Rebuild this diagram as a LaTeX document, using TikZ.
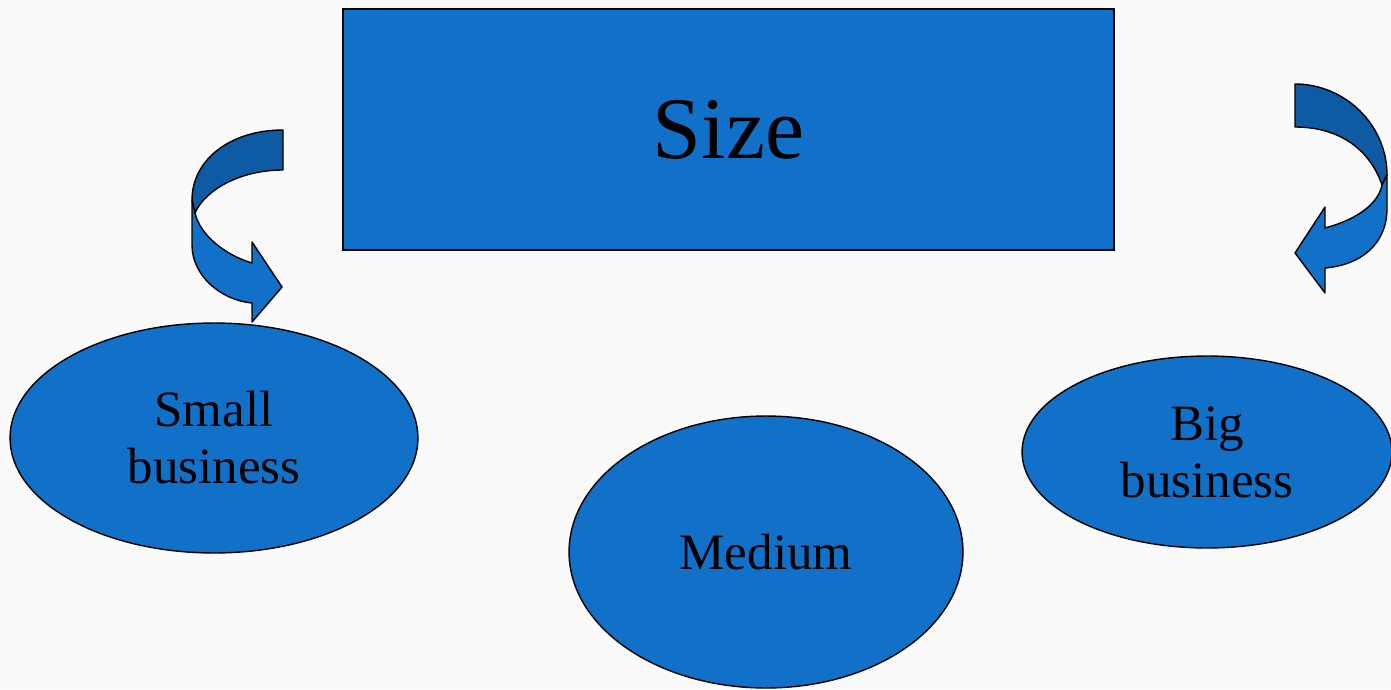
\documentclass[tikz,border=0pt]{standalone}
\usepackage{fontspec}
\setmainfont{Liberation Serif}
\usetikzlibrary{positioning, shapes.geometric}
\definecolor{sizeblue}{RGB}{17,112,200}
\definecolor{darkblue}{RGB}{14,91,163}
\definecolor{paper}{RGB}{250,250,250}

\begin{document}
\begin{tikzpicture}[
            x=0.02cm, y=-0.02cm,
            every node/.style={draw, fill=sizeblue, line width=0.8pt, inner sep=0pt, align=center, font=\fontsize{29}{32.5}\selectfont},
            sizebox/.style={rectangle, minimum width=15.42cm, minimum height=4.82cm, font=\fontsize{50}{56}\selectfont},
            blob/.style={ellipse},
            turn/.style={draw, line width=0.8pt, line join=round}
          ]

        \fill[paper] (0,0) rectangle (1391,689);
        \useasboundingbox (0,0) rectangle (1391,689);

        \node[sizebox] (size) at (728.5,129.5) {Size};
        \node[blob, minimum width=8.16cm, minimum height=4.6cm] (small) at (214,438) {Small\\business};
        \node[blob, minimum width=7.88cm, minimum height=5.44cm] (medium) at (766,552) {Medium};
        \node[blob, minimum width=7.4cm, minimum height=3.84cm] (big) at (1207,452) {Big\\business};

        % left turning arrow
        \filldraw[turn, fill=darkblue] (283,130) .. controls (230,130) and (192,160) .. (192,200)
            -- (195,213) .. controls (205,190) and (240,170) .. (283,170) -- cycle;
        \filldraw[turn, fill=sizeblue] (192,200) -- (192,245) .. controls (192,275) and (220,300) .. (252,303)
            -- (252,322) -- (282,287) -- (252,242) -- (252,263)
            .. controls (225,255) and (200,235) .. (195,213) -- cycle;

        % right turning arrow
        \filldraw[turn, fill=darkblue] (1295,84) .. controls (1345,84) and (1387,125) .. (1387,175)
            -- (1382,185) .. controls (1370,150) and (1340,127) .. (1295,127) -- cycle;
        \filldraw[turn, fill=sizeblue] (1387,175) -- (1387,208) .. controls (1387,245) and (1360,265) .. (1325,268)
            -- (1325,293) -- (1295,253) -- (1325,207) -- (1325,228)
            .. controls (1355,220) and (1378,205) .. (1382,185) -- cycle;

        \end{tikzpicture}
\end{document}
